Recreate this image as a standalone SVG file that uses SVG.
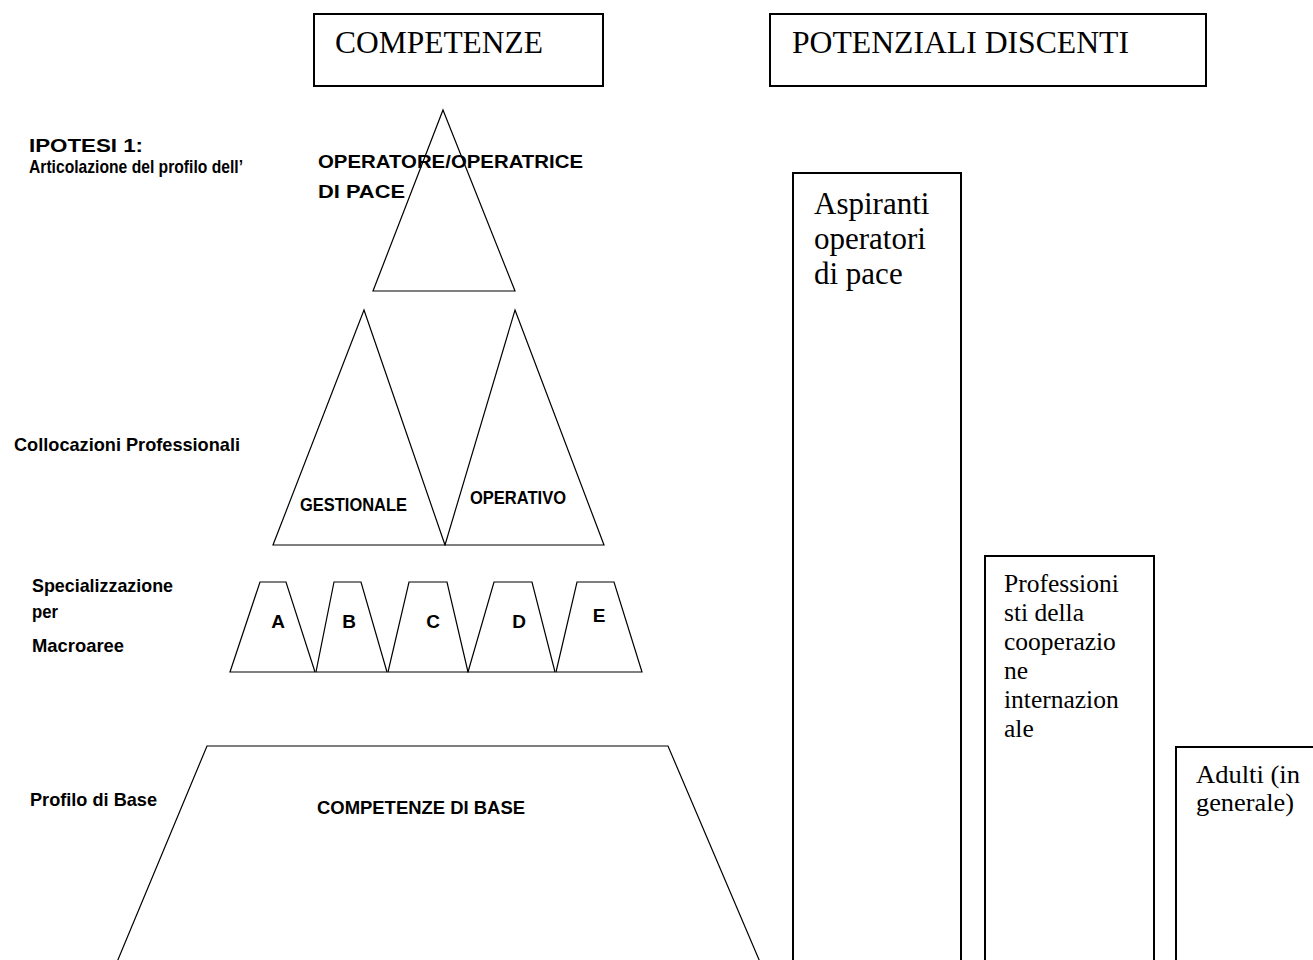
<svg xmlns="http://www.w3.org/2000/svg" width="1313" height="960" viewBox="0 0 1313 960">
<style>
.bx{fill:#fff;stroke:#000;stroke-width:2}
.sh{fill:#fff;stroke:#000;stroke-width:1.2;stroke-linejoin:miter}
.ser{font-family:"Liberation Serif","Times New Roman",serif;fill:#000}
.lb{font-family:"Liberation Sans",Arial,sans-serif;font-weight:bold;fill:#000;font-size:19px}
</style>
<rect width="1313" height="960" fill="#fff"/>
<g id="hdr-competenze">
<rect class="bx" x="314" y="14" width="289" height="72"/>
<text class="ser" x="335" y="53" font-size="32" textLength="208" lengthAdjust="spacingAndGlyphs">COMPETENZE</text>
</g>
<g id="hdr-discenti">
<rect class="bx" x="770" y="14" width="436" height="72"/>
<text class="ser" x="792" y="53" font-size="32" textLength="337" lengthAdjust="spacingAndGlyphs">POTENZIALI DISCENTI</text>
</g>
<g id="labels-left">
<text class="lb" x="29" y="152" font-size="18" textLength="114" lengthAdjust="spacingAndGlyphs">IPOTESI 1:</text>
<text class="lb" x="29" y="173" font-size="18" textLength="214" lengthAdjust="spacingAndGlyphs">Articolazione del profilo dell’</text>
<text class="lb" x="14" y="451" textLength="226" lengthAdjust="spacingAndGlyphs">Collocazioni Professionali</text>
<text class="lb" x="32" y="592" textLength="141" lengthAdjust="spacingAndGlyphs">Specializzazione</text>
<text class="lb" x="32" y="618" textLength="26" lengthAdjust="spacingAndGlyphs">per</text>
<text class="lb" x="32" y="652" textLength="92" lengthAdjust="spacingAndGlyphs">Macroaree</text>
<text class="lb" x="30" y="806" textLength="127" lengthAdjust="spacingAndGlyphs">Profilo di Base</text>
</g>
<g id="node-operatore">
<polygon class="sh" points="443,110 515,291 373,291" style="fill:none"/>
<text class="lb" x="318" y="168" textLength="265" lengthAdjust="spacingAndGlyphs">OPERATORE/OPERATRICE</text>
<text class="lb" x="318" y="198" textLength="87" lengthAdjust="spacingAndGlyphs">DI PACE</text>
</g>
<g id="node-gestionale">
<polygon class="sh" points="364,310 445,545 273,545"/>
<text class="lb" x="300" y="511" textLength="107" lengthAdjust="spacingAndGlyphs">GESTIONALE</text>
</g>
<g id="node-operativo">
<polygon class="sh" points="515,310 604,545 445,545"/>
<text class="lb" x="470" y="504" textLength="96" lengthAdjust="spacingAndGlyphs">OPERATIVO</text>
</g>
<g id="node-A">
<polygon class="sh" points="260,582 286,582 315,672 230,672"/>
<text class="lb" x="278" y="628" text-anchor="middle">A</text>
</g>
<g id="node-B">
<polygon class="sh" points="334,582 361,582 387,672 316,672"/>
<text class="lb" x="349" y="628" text-anchor="middle">B</text>
</g>
<g id="node-C">
<polygon class="sh" points="409,582 447,582 468,672 388,672"/>
<text class="lb" x="433" y="628" text-anchor="middle">C</text>
</g>
<g id="node-D">
<polygon class="sh" points="494,582 532,582 555,672 468,672"/>
<text class="lb" x="519" y="628" text-anchor="middle">D</text>
</g>
<g id="node-E">
<polygon class="sh" points="577,582 614,582 642,672 556,672"/>
<text class="lb" x="599" y="622" text-anchor="middle">E</text>
</g>
<g id="node-base">
<polygon class="sh" points="207,746 668,746 760,962 117,962"/>
<text class="lb" x="317" y="814" textLength="208" lengthAdjust="spacingAndGlyphs">COMPETENZE DI BASE</text>
</g>
<g id="node-aspiranti">
<rect class="bx" x="793" y="173" width="168" height="800"/>
<text class="ser" font-size="31"><tspan x="814" y="214">Aspiranti</tspan><tspan x="814" y="249">operatori</tspan><tspan x="814" y="284">di pace</tspan></text>
</g>
<g id="node-professionisti">
<rect class="bx" x="985" y="556" width="169" height="420"/>
<text class="ser" font-size="25.5"><tspan x="1004" y="592">Professioni</tspan><tspan x="1004" y="621">sti della</tspan><tspan x="1004" y="650">cooperazio</tspan><tspan x="1004" y="679">ne</tspan><tspan x="1004" y="708">internazion</tspan><tspan x="1004" y="737">ale</tspan></text>
</g>
<g id="node-adulti">
<rect class="bx" x="1176" y="747" width="160" height="230"/>
<text class="ser" font-size="24.5" x="1196" y="783" textLength="104" lengthAdjust="spacingAndGlyphs">Adulti (in</text>
<text class="ser" font-size="24.5" x="1196" y="811" textLength="98" lengthAdjust="spacingAndGlyphs">generale)</text>
</g>
<g id="connectors"></g>
</svg>
